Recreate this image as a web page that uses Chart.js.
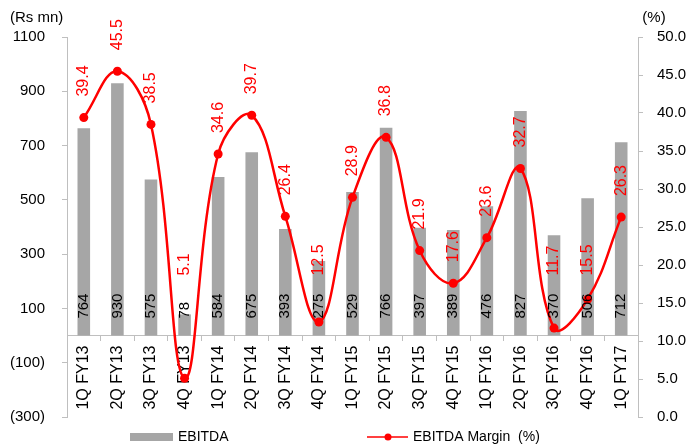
<!DOCTYPE html>
<html>
<head>
<meta charset="utf-8">
<script src="https://cdn.jsdelivr.net/npm/chart.js@4/dist/chart.umd.min.js"></script>
<style>
html,body{margin:0;padding:0;background:#fff;}
#wrap{width:689px;height:446px;}
</style>
</head>
<body>
<div id="wrap"><canvas id="c" width="689" height="446"></canvas></div>
<script>
const categories = ['1Q FY13','2Q FY13','3Q FY13','4Q FY13','1Q FY14','2Q FY14','3Q FY14','4Q FY14','1Q FY15','2Q FY15','3Q FY15','4Q FY15','1Q FY16','2Q FY16','3Q FY16','4Q FY16','1Q FY17'];
const ebitda = [764,930,575,78,584,675,393,275,529,766,397,389,476,827,370,506,712];
const margin = [39.4,45.5,38.5,5.1,34.6,39.7,26.4,12.5,28.9,36.8,21.9,17.6,23.6,32.7,11.7,15.5,26.3];
const leftTicks = [-300,-100,100,300,500,700,900,1100];
const rightTicks = [0,5,10,15,20,25,30,35,40,45,50];
const seriesNames = ['EBITDA','EBITDA Margin  (%)'];
const axisTitles = ['(Rs mn)','(%)'];

const FONT = '"Liberation Sans", Arial, sans-serif';
const GRAY = '#a6a6a6';
const RED = '#ff0000';
const AXIS = '#bfbfbf';

const labelPlugin = {
  id: 'labels',
  afterDatasetsDraw(chart) {
    const ctx = chart.ctx;
    const yL = chart.scales.y;
    const zeroY = yL.getPixelForValue(0);
    const barMeta = chart.getDatasetMeta(0);
    const lineMeta = chart.getDatasetMeta(1);
    ctx.save();
    ctx.font = '15px ' + FONT;
    ctx.textAlign = 'left';
    ctx.textBaseline = 'middle';
    ctx.fillStyle = '#000';
    barMeta.data.forEach((bar, i) => {
      ctx.save();
      ctx.translate(bar.x, zeroY - 17);
      ctx.rotate(-Math.PI / 2);
      ctx.fillText(String(ebitda[i]), 0, 0);
      ctx.restore();
    });
    ctx.fillStyle = RED;
    ctx.font = '16px ' + FONT;
    const cap = zeroY - 60;
    lineMeta.data.forEach((pt, i) => {
      const yy = Math.min(pt.y - 21, cap);
      ctx.save();
      ctx.translate(pt.x, yy);
      ctx.rotate(-Math.PI / 2);
      ctx.fillText(margin[i].toFixed(1), 0, 0);
      ctx.restore();
    });
    ctx.restore();
  },
  afterDraw(chart) {
    const ctx = chart.ctx;
    ctx.save();
    ctx.font = '15px ' + FONT;
    ctx.fillStyle = '#000';
    ctx.textBaseline = 'middle';
    ctx.textAlign = 'left';
    ctx.fillText(axisTitles[0], 10, 18);
    ctx.textAlign = 'center';
    ctx.fillText(axisTitles[1], 654, 18);
    // legend
    const ly = 437;
    ctx.font = '14px ' + FONT;
    ctx.textAlign = 'left';
    ctx.fillStyle = GRAY;
    ctx.fillRect(130, ly - 4, 43, 8);
    ctx.fillStyle = '#000';
    ctx.fillText(seriesNames[0], 178, ly);
    ctx.strokeStyle = RED;
    ctx.lineWidth = 1.5;
    ctx.beginPath();
    ctx.moveTo(367, ly);
    ctx.lineTo(408, ly);
    ctx.stroke();
    ctx.fillStyle = RED;
    ctx.beginPath();
    ctx.arc(388, ly, 3.5, 0, Math.PI * 2);
    ctx.fill();
    ctx.fillStyle = '#000';
    ctx.fillText(seriesNames[1], 413, ly);
    ctx.restore();
  }
};

new Chart(document.getElementById('c'), {
  data: {
    labels: categories,
    datasets: [
      {
        type: 'bar',
        label: seriesNames[0],
        data: ebitda,
        backgroundColor: GRAY,
        borderWidth: 0,
        barPercentage: 0.75,
        categoryPercentage: 0.5,
        yAxisID: 'y',
        order: 2
      },
      {
        type: 'line',
        label: seriesNames[1],
        data: margin,
        borderColor: RED,
        backgroundColor: RED,
        borderWidth: 2.5,
        pointRadius: 4.5,
        pointBackgroundColor: RED,
        pointBorderWidth: 0,
        tension: 0.4,
        yAxisID: 'y1',
        order: 1
      }
    ]
  },
  options: {
    responsive: false,
    animation: false,
    events: [],
    layout: { padding: { left: 0, right: 0, top: 37, bottom: 29 } },
    plugins: { legend: { display: false }, tooltip: { enabled: false } },
    scales: {
      x: {
        type: 'category',
        position: { y: 0 },
        offset: true,
        grid: { drawOnChartArea: false, drawTicks: true, tickLength: 5, color: AXIS, offset: true },
        border: { color: AXIS, width: 1 },
        ticks: { minRotation: 90, maxRotation: 90, autoSkip: false, padding: 5, color: '#000', font: { family: FONT, size: 16 } }
      },
      y: {
        type: 'linear',
        position: 'left',
        min: -300, max: 1100,
        afterBuildTicks(s) { s.ticks = leftTicks.map(v => ({ value: v })); },
        afterFit(s) { s.width = 67; },
        grid: { drawOnChartArea: false, drawTicks: true, tickLength: 5, color: AXIS },
        border: { color: AXIS, width: 1 },
        ticks: {
          padding: 17, color: '#000', font: { family: FONT, size: 15 },
          callback: v => v < 0 ? '(' + Math.abs(v) + ')' : String(v)
        }
      },
      y1: {
        type: 'linear',
        position: 'right',
        min: 0, max: 50,
        afterBuildTicks(s) { s.ticks = rightTicks.map(v => ({ value: v })); },
        afterFit(s) { s.width = 51; },
        grid: { drawOnChartArea: false, drawTicks: true, tickLength: 5, color: AXIS },
        border: { color: AXIS, width: 1 },
        ticks: {
          padding: 14, color: '#000', font: { family: FONT, size: 15 },
          callback: v => Number(v).toFixed(1)
        }
      }
    }
  },
  plugins: [labelPlugin]
});
</script>
</body>
</html>
